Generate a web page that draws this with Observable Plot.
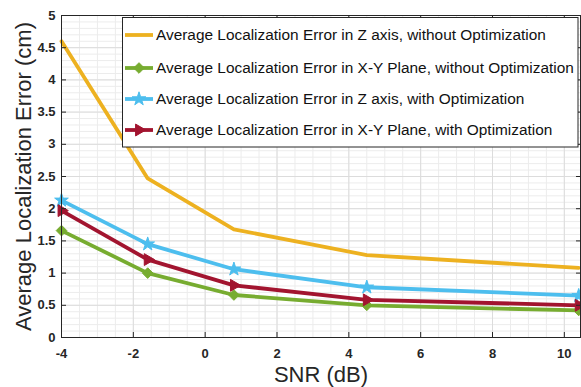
<!DOCTYPE html>
<html><head><meta charset="utf-8">
<script src="https://cdn.jsdelivr.net/npm/d3@7"></script>
<script src="https://cdn.jsdelivr.net/npm/@observablehq/plot@0.6"></script>
<style>
body{margin:0;background:#fff;}
</style></head><body><div id="wrap"></div>
<script>
// ---- data ----
const snr = [-4, -1.6, 0.8, 4.5, 10.4];
const zNoOpt  = [4.60, 2.47, 1.68, 1.28, 1.08];
const xyNoOpt = [1.66, 1.00, 0.66, 0.50, 0.42];
const zOpt    = [2.13, 1.45, 1.06, 0.78, 0.65];
const xyOpt   = [1.97, 1.21, 0.81, 0.585, 0.50];
const seriesNames = [
  "Average Localization Error in Z axis, without Optimization",
  "Average Localization Error in X-Y Plane, without Optimization",
  "Average Localization Error in Z axis, with Optimization",
  "Average Localization Error in X-Y Plane, with Optimization"
];
const seriesColors = ["#EDB120", "#77AC30", "#4DBEEE", "#A2142F"];
const seriesSymbols = [null, "diamond2", "star", "triangle"];
const xTicks = [-4, -2, 0, 2, 4, 6, 8, 10];
const yTicks = [0, 0.5, 1, 1.5, 2, 2.5, 3, 3.5, 4, 4.5, 5];
const xMinor = d3.range(-4, 10.5, 0.5);
const yMinor = d3.range(0, 5.01, 0.1);
const xLabel = "SNR (dB)";
const yLabel = "Average Localization Error (cm)";

const allValues = [zNoOpt, xyNoOpt, zOpt, xyOpt];
const rows = allValues.flatMap((vals, i) => snr.map((x, j) => ({x, y: vals[j], series: seriesNames[i], idx: i})));

const font = "Liberation Sans, Arial, Helvetica, sans-serif";
const axisStyle = {color: "#262626", fontSize: 13, fontWeight: "bold", label: null, tickFormat: d => String(d)};
const symR = [0, 4.8, 4.3, 4.4];

const dotMarks = [1, 2, 3].map(i => Plot.dot(rows.filter(d => d.idx === i), {
  x: "x", y: "y", symbol: () => seriesSymbols[i], fill: seriesColors[i], stroke: seriesColors[i], strokeWidth: 1,
  r: symR[i], rotate: i === 3 ? 90 : 0
}));

const chart = Plot.plot({
  width: 581, height: 387,
  marginLeft: 61, marginRight: 1, marginTop: 15, marginBottom: 50,
  style: {fontFamily: font, background: "#fff", overflow: "visible"},
  x: {domain: [-4, 10.45]},
  y: {domain: [0, 5]},
  color: {domain: seriesNames, range: seriesColors},
  marks: [
    Plot.gridX(xMinor, {stroke: "#ececec", strokeOpacity: 1}),
    Plot.gridY(yMinor, {stroke: "#ececec", strokeOpacity: 1}),
    Plot.gridX(xTicks, {stroke: "#dcdcdc", strokeOpacity: 1}),
    Plot.gridY(yTicks, {stroke: "#dcdcdc", strokeOpacity: 1}),
    Plot.line(rows, {x: "x", y: "y", z: "series", stroke: "series", strokeWidth: 3.8, strokeLinejoin: "round"}),
    ...dotMarks,
    Plot.frame({stroke: "#262626", strokeWidth: 1}),
    Plot.axisX(xTicks, {...axisStyle, anchor: "bottom", tickSize: -5, tickPadding: 16}),
    Plot.axisX(xTicks, {...axisStyle, anchor: "top", tickSize: -5, tickFormat: () => ""}),
    Plot.axisY(yTicks, {...axisStyle, anchor: "left", tickSize: -5, tickPadding: 11}),
    Plot.axisY(yTicks, {...axisStyle, anchor: "right", tickSize: -5, tickFormat: () => ""}),
    Plot.text([xLabel], {text: d => d, frameAnchor: "bottom", textAnchor: "middle", lineAnchor: "bottom", dy: 44, fontSize: 22, fill: "#262626"}),
    Plot.text([yLabel], {text: d => d, frameAnchor: "left", textAnchor: "middle", lineAnchor: "bottom", rotate: -90, dx: -31, fontSize: 22, fill: "#262626"})
  ]
});
document.getElementById("wrap").appendChild(chart);

// ---- legend (inside plot area, top right) ----
const svg = d3.select(chart);
const lg = svg.append("g").attr("font-family", font).attr("text-anchor", "start");
lg.append("rect").attr("x", 122.5).attr("y", 17.5).attr("width", 455.5).attr("height", 129.5)
  .attr("fill", "#fff").attr("stroke", "#262626").attr("stroke-width", 1);
const ys = [35, 68, 99, 130];
seriesNames.forEach((name, i) => {
  const y = ys[i];
  lg.append("line").attr("x1", 125).attr("x2", 153).attr("y1", y).attr("y2", y)
    .attr("stroke", seriesColors[i]).attr("stroke-width", 3.8);
  if (seriesSymbols[i]) {
    const sym = {diamond2: d3.symbolDiamond2, star: d3.symbolStar, triangle: d3.symbolTriangle}[seriesSymbols[i]];
    lg.append("path").attr("d", d3.symbol(sym, Math.PI * symR[i] * symR[i])())
      .attr("transform", `translate(139,${y}) rotate(${i === 3 ? 90 : 0})`)
      .attr("fill", seriesColors[i]).attr("stroke", seriesColors[i]).attr("stroke-width", 1);
  }
  lg.append("text").attr("x", 156).attr("y", y).attr("dy", "0.35em")
    .attr("font-size", 15.4).attr("fill", "#111").attr("text-anchor", "start").text(name);
});
</script></body></html>
